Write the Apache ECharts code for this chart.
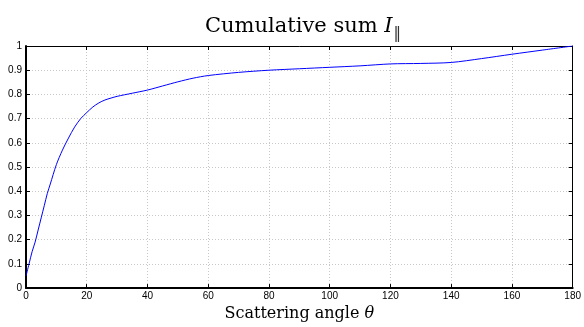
<!DOCTYPE html>
<html>
<head>
<meta charset="utf-8">
<script src="https://cdn.jsdelivr.net/npm/echarts@6/dist/echarts.min.js"></script>
<style>
  html, body { margin: 0; padding: 0; background: #fff; }
  #chart { width: 584px; height: 327px; }
</style>
</head>
<body>
<div id="chart"></div>
<script>
// scattering angle (deg) and cumulative sum
const angles = [0, 1, 2, 3, 4, 5, 6, 7, 8, 10, 12, 14, 16, 18, 20, 22, 24, 26, 28, 30,
  35, 40, 45, 50, 55, 60, 70, 80, 90, 100, 110, 120, 130, 140, 150, 160, 170, 180]
const cumSum = [0.05, 0.1, 0.15, 0.19, 0.24, 0.29, 0.34, 0.39, 0.43, 0.51, 0.57, 0.62, 0.665, 0.7, 0.725, 0.748, 0.765, 0.777, 0.785, 0.792,
  0.805, 0.818, 0.835, 0.852, 0.867, 0.878, 0.891, 0.9, 0.906, 0.912, 0.918, 0.926, 0.928, 0.932, 0.948, 0.966, 0.983, 1.0]
const xTicks = [0, 20, 40, 60, 80, 100, 120, 140, 160, 180]
const yTicks = [0, 0.1, 0.2, 0.3, 0.4, 0.5, 0.6, 0.7, 0.8, 0.9, 1]

const labelFont = { color: '#000', fontFamily: 'Liberation Sans', fontSize: 10 }
const gridLine = { show: true, lineStyle: { type: [1, 2], color: '#c8c8c8', width: 1 } }
const serif = 'DejaVu Serif'

const chart = echarts.init(document.getElementById('chart'))
chart.setOption({
  animation: false,
  title: {
    text: '{a|Cumulative sum }{i|I}{s|‖}',
    left: 200,
    top: 6,
    textStyle: {
      rich: {
        a: { fontFamily: serif, fontWeight: 'normal', fontSize: 21, color: '#000' },
        i: { fontFamily: serif, fontWeight: 'normal', fontStyle: 'italic', fontSize: 21, color: '#000' },
        s: { fontFamily: 'DejaVu Sans', fontWeight: 'normal', fontSize: 15, color: '#333', padding: [16, 0, 0, 1] }
      }
    }
  },
  grid: { left: 26, right: 8, top: 46, bottom: 35 },
  xAxis: [
    {
      type: 'value', min: 0, max: 180, interval: 20,
      name: '{n|Scattering angle }{t|θ}', nameLocation: 'middle', nameGap: 13,
      nameTextStyle: {
        rich: {
          n: { fontFamily: serif, fontSize: 16, color: '#000' },
          t: { fontFamily: serif, fontStyle: 'italic', fontSize: 16, color: '#000' }
        }
      },
      axisLine: { onZero: false, lineStyle: { color: '#000', width: 2 } },
      axisTick: { inside: true, length: 4, lineStyle: { color: '#000' } },
      axisLabel: Object.assign({ margin: 3, formatter: v => xTicks.includes(v) ? String(v) : '' }, labelFont),
      splitLine: gridLine
    },
    {
      type: 'value', min: 0, max: 180, interval: 20, position: 'top',
      axisLine: { show: true, onZero: false, lineStyle: { color: '#000', width: 1 } },
      axisTick: { inside: true, length: 4, lineStyle: { color: '#000' } },
      axisLabel: { show: false }, splitLine: { show: false }
    }
  ],
  yAxis: [
    {
      type: 'value', min: 0, max: 1, interval: 0.1,
      axisLine: { onZero: false, lineStyle: { color: '#000', width: 2 } },
      axisTick: { inside: true, length: 4, lineStyle: { color: '#000' } },
      axisLabel: Object.assign({ margin: 4, formatter: v => {
        const t = yTicks.find(y => Math.abs(y - v) < 1e-6)
        return t === undefined ? '' : String(t)
      } }, labelFont),
      splitLine: gridLine
    },
    {
      type: 'value', min: 0, max: 1, interval: 0.1, position: 'right',
      axisLine: { show: true, onZero: false, lineStyle: { color: '#000', width: 1 } },
      axisTick: { inside: true, length: 4, lineStyle: { color: '#000' } },
      axisLabel: { show: false }, splitLine: { show: false }
    }
  ],
  series: [
    {
      type: 'line',
      data: angles.map((a, i) => [a, cumSum[i]]),
      smooth: 0.3,
      showSymbol: false,
      lineStyle: { color: '#0000ff', width: 1 }
    }
  ]
})
</script>
</body>
</html>
